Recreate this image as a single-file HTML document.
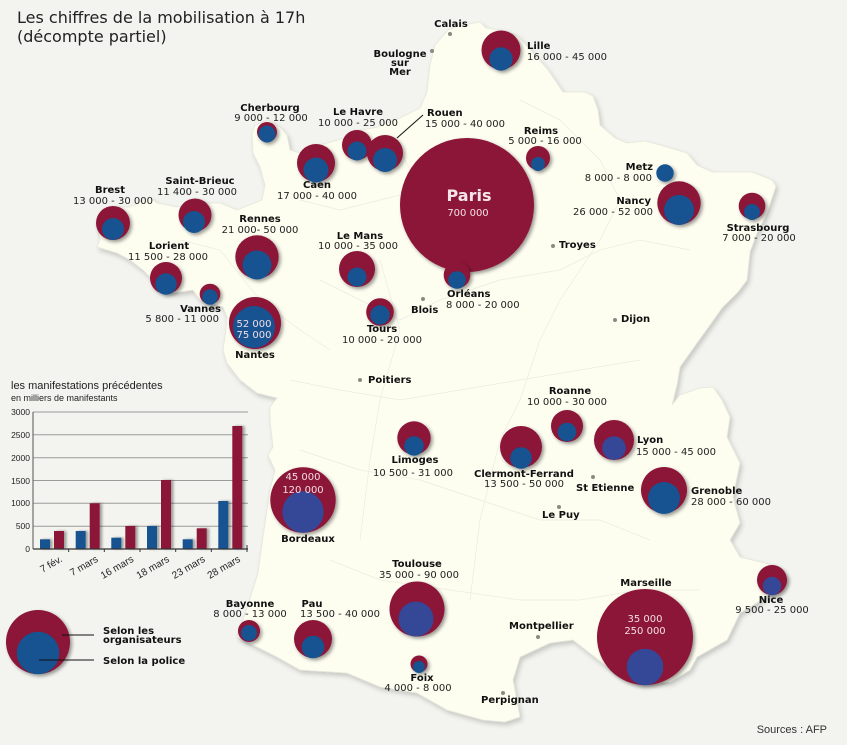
<!DOCTYPE html>
<html>
<head>
<meta charset="utf-8">
<style>
html,body{margin:0;padding:0;background:#f3f4ef;}
svg{display:block;}
.n{font-family:"DejaVu Sans",Verdana,sans-serif;font-size:10px;font-weight:bold;fill:#111;}
.v{font-family:"DejaVu Sans",Verdana,sans-serif;font-size:10px;fill:#222;}
.w{font-family:"DejaVu Sans",Verdana,sans-serif;font-size:10px;fill:#f3dde4;}
.c{font-family:"Liberation Sans",Arial,sans-serif;fill:#222;}
</style>
</head>
<body>
<svg width="847" height="745" viewBox="0 0 847 745" xmlns="http://www.w3.org/2000/svg">
<defs>
<filter id="ms" x="-10%" y="-10%" width="130%" height="130%">
<feDropShadow dx="2" dy="3" stdDeviation="2.5" flood-color="#000" flood-opacity="0.18"/>
</filter>
<filter id="cs" x="-30%" y="-30%" width="170%" height="170%">
<feDropShadow dx="2" dy="2" stdDeviation="1.8" flood-color="#000" flood-opacity="0.4"/>
</filter>
<filter id="bs" x="-30%" y="-10%" width="180%" height="120%">
<feDropShadow dx="2.5" dy="0" stdDeviation="1.2" flood-color="#000" flood-opacity="0.35"/>
</filter>
</defs>
<rect width="847" height="745" fill="#f3f4ef"/>

<!-- France map -->
<polygon filter="url(#ms)" fill="#fdfdf0" stroke="#e6e6dc" stroke-width="0.8" points="448,30 458,26 480,22 486,28 500,30 518,36 535,55 548,70 563,92 585,92 593,96 598,110 600,125 615,138 627,143 645,141 660,145 687,153 697,165 712,172 752,172 772,180 776,186 767,213 757,233 750,252 747,280 738,292 730,300 722,308 710,325 697,343 680,367 677,385 672,405 680,395 700,388 713,387 722,400 730,417 727,437 740,463 733,497 740,523 730,540 740,557 773,565 787,577 775,592 740,613 727,640 697,657 690,670 670,682 640,684 605,665 573,640 550,643 520,657 513,680 520,717 505,722 483,720 447,710 417,693 380,687 347,673 300,670 277,657 257,647 237,637 248,605 258,573 265,523 270,490 275,470 268,455 273,447 270,420 270,407 277,398 257,393 240,380 227,363 223,350 226,330 227,317 223,307 200,300 193,290 173,293 153,280 143,270 130,260 117,253 97,247 100,240 97,223 100,213 113,207 130,207 150,197 157,203 177,207 210,203 220,203 237,210 262,200 265,185 260,167 253,153 252,133 255,125 268,120 280,127 287,135 290,150 300,153 320,145 345,138 362,130 378,127 400,118 420,108 427,92 430,65 435,45"/>

<!-- faint internal borders -->
<g fill="none" stroke="#ebebdf" stroke-width="0.7">
<path d="M300,200 L340,210 L380,200 L420,190 L400,150"/>
<path d="M320,280 L360,300 L400,320 L440,300 L500,280 L560,270 L600,250 L640,240 L690,250"/>
<path d="M290,380 L340,390 L400,400 L460,390 L520,380 L580,370 L640,360"/>
<path d="M300,450 L360,470 L420,480 L480,500 L540,520 L600,520 L650,540"/>
<path d="M330,560 L380,580 L450,590 L520,600 L580,600 L640,590 L700,590"/>
<path d="M520,100 L560,120 L600,160 L620,200 L600,240 L560,300 L540,340 L520,400 L500,440 L480,520 L470,600"/>
<path d="M380,260 L400,330 L380,400 L370,460 L360,540"/>
<path d="M180,240 L220,250 L260,300 L300,330 L330,350"/>
</g>

<!-- Title -->
<text x="17" y="23" font-family="DejaVu Sans,Verdana,sans-serif" font-size="16" fill="#222">Les chiffres de la mobilisation à 17h</text>
<text x="17" y="42" font-family="DejaVu Sans,Verdana,sans-serif" font-size="16" fill="#222">(décompte partiel)</text>

<!-- city dots -->
<g fill="#8a8a82">
<circle cx="450" cy="34" r="2"/>
<circle cx="432" cy="51" r="2"/>
<circle cx="423" cy="299" r="2"/>
<circle cx="360" cy="380" r="2"/>
<circle cx="553" cy="246" r="2"/>
<circle cx="615" cy="320" r="2"/>
<circle cx="593" cy="477" r="2"/>
<circle cx="559" cy="507" r="2"/>
<circle cx="538" cy="637" r="2"/>
<circle cx="503" cy="693" r="2"/>
</g>

<!-- Rouen leader line -->
<line x1="397" y1="138" x2="423" y2="115" stroke="#111" stroke-width="1"/>

<!-- circles -->
<g>
<g filter="url(#cs)"><circle cx="467" cy="205" r="67" fill="#8c1239"/></g>
<g filter="url(#cs)"><circle cx="501" cy="50" r="19.5" fill="#8c1239"/><circle cx="501" cy="59" r="11.7" fill="#175290"/></g>
<g filter="url(#cs)"><circle cx="357" cy="145" r="15" fill="#8c1239"/><circle cx="357" cy="151" r="9.5" fill="#175290"/></g>
<g filter="url(#cs)"><circle cx="385" cy="153" r="18" fill="#8c1239"/><circle cx="385" cy="160" r="12" fill="#175290"/></g>
<g filter="url(#cs)"><circle cx="316" cy="163" r="19" fill="#8c1239"/><circle cx="316" cy="170" r="12.5" fill="#175290"/></g>
<g filter="url(#cs)"><circle cx="267" cy="132" r="10" fill="#8c1239"/><circle cx="267" cy="134" r="8.5" fill="#175290"/></g>
<g filter="url(#cs)"><circle cx="195" cy="215" r="16.5" fill="#8c1239"/><circle cx="194" cy="222" r="11" fill="#175290"/></g>
<g filter="url(#cs)"><circle cx="113" cy="223" r="17" fill="#8c1239"/><circle cx="113" cy="229" r="11" fill="#175290"/></g>
<g filter="url(#cs)"><circle cx="166" cy="278" r="16" fill="#8c1239"/><circle cx="166" cy="284" r="10.7" fill="#175290"/></g>
<g filter="url(#cs)"><circle cx="210" cy="294" r="10.3" fill="#8c1239"/><circle cx="210" cy="297" r="7.8" fill="#175290"/></g>
<g filter="url(#cs)"><circle cx="257" cy="257" r="21.7" fill="#8c1239"/><circle cx="257" cy="265" r="14.5" fill="#175290"/></g>
<g filter="url(#cs)"><circle cx="357" cy="269" r="18" fill="#8c1239"/><circle cx="357" cy="277" r="9.5" fill="#175290"/></g>
<g filter="url(#cs)"><circle cx="380" cy="312" r="13.8" fill="#8c1239"/><circle cx="380" cy="315" r="9.7" fill="#175290"/></g>
<g filter="url(#cs)"><circle cx="255" cy="323" r="26" fill="#8c1239"/><circle cx="254" cy="327" r="21" fill="#175290"/></g>
<g filter="url(#cs)"><circle cx="457" cy="275" r="13.3" fill="#8c1239"/><circle cx="457" cy="280" r="8.8" fill="#175290"/></g>
<g filter="url(#cs)"><circle cx="538" cy="158" r="12" fill="#8c1239"/><circle cx="538" cy="164" r="7" fill="#175290"/></g>
<g filter="url(#cs)"><circle cx="665" cy="173" r="8.7" fill="#175290"/></g>
<g filter="url(#cs)"><circle cx="679" cy="203" r="21.7" fill="#8c1239"/><circle cx="679" cy="210" r="15" fill="#175290"/></g>
<g filter="url(#cs)"><circle cx="752" cy="206" r="13.3" fill="#8c1239"/><circle cx="752" cy="212" r="8" fill="#175290"/></g>
<g filter="url(#cs)"><circle cx="414" cy="438" r="16.7" fill="#8c1239"/><circle cx="414" cy="446" r="9.8" fill="#175290"/></g>
<g filter="url(#cs)"><circle cx="521" cy="447" r="21" fill="#8c1239"/><circle cx="521" cy="458" r="10.8" fill="#175290"/></g>
<g filter="url(#cs)"><circle cx="567" cy="426" r="16" fill="#8c1239"/><circle cx="567" cy="432" r="9.3" fill="#175290"/></g>
<g filter="url(#cs)"><circle cx="614" cy="440" r="20" fill="#8c1239"/><circle cx="614" cy="448" r="11.8" fill="#364797"/></g>
<g filter="url(#cs)"><circle cx="664" cy="490" r="23" fill="#8c1239"/><circle cx="664" cy="498" r="16" fill="#175290"/></g>
<g filter="url(#cs)"><circle cx="303" cy="500" r="32.7" fill="#8c1239"/><circle cx="303" cy="512" r="20.7" fill="#364797"/></g>
<g filter="url(#cs)"><circle cx="417" cy="609" r="27.5" fill="#8c1239"/><circle cx="416" cy="619" r="17.5" fill="#364797"/></g>
<g filter="url(#cs)"><circle cx="249" cy="631" r="11" fill="#8c1239"/><circle cx="249" cy="633" r="8" fill="#175290"/></g>
<g filter="url(#cs)"><circle cx="313" cy="639" r="19" fill="#8c1239"/><circle cx="313" cy="647" r="11.3" fill="#175290"/></g>
<g filter="url(#cs)"><circle cx="419" cy="664" r="8.5" fill="#8c1239"/><circle cx="419" cy="667" r="6" fill="#175290"/></g>
<g filter="url(#cs)"><circle cx="645" cy="637" r="48" fill="#8c1239"/><circle cx="645" cy="667" r="18.3" fill="#364797"/></g>
<g filter="url(#cs)"><circle cx="772" cy="580" r="15" fill="#8c1239"/><circle cx="772" cy="586" r="9.2" fill="#364797"/></g>
<g filter="url(#cs)"><circle cx="38" cy="642" r="32" fill="#8c1239"/><circle cx="38" cy="653" r="21.3" fill="#175290"/></g>
</g>

<!-- in-circle labels -->
<text x="469" y="201" text-anchor="middle" font-family="DejaVu Sans,Verdana,sans-serif" font-size="16" font-weight="bold" fill="#f6e6ea">Paris</text>
<text x="468" y="216" text-anchor="middle" class="w">700 000</text>
<text x="254" y="327" text-anchor="middle" class="w">52 000</text>
<text x="254" y="338" text-anchor="middle" class="w">75 000</text>
<text x="303" y="480" text-anchor="middle" class="w">45 000</text>
<text x="303" y="493" text-anchor="middle" class="w">120 000</text>
<text x="645" y="622" text-anchor="middle" class="w">35 000</text>
<text x="645" y="634" text-anchor="middle" class="w">250 000</text>

<!-- city labels -->
<text x="451" y="27" text-anchor="middle" class="n">Calais</text>
<text x="400" y="57" text-anchor="middle" class="n">Boulogne</text>
<text x="400" y="66" text-anchor="middle" class="n">sur</text>
<text x="400" y="75" text-anchor="middle" class="n">Mer</text>

<text x="527" y="49" class="n">Lille</text>
<text x="527" y="60" class="v">16 000 - 45 000</text>

<text x="427" y="116" class="n">Rouen</text>
<text x="425" y="127" class="v">15 000 - 40 000</text>

<text x="358" y="115" text-anchor="middle" class="n">Le Havre</text>
<text x="358" y="126" text-anchor="middle" class="v">10 000 - 25 000</text>

<text x="270" y="111" text-anchor="middle" class="n">Cherbourg</text>
<text x="271" y="121" text-anchor="middle" class="v">9 000 - 12 000</text>

<text x="317" y="188" text-anchor="middle" class="n">Caen</text>
<text x="317" y="199" text-anchor="middle" class="v">17 000 - 40 000</text>

<text x="200" y="184" text-anchor="middle" class="n">Saint-Brieuc</text>
<text x="197" y="195" text-anchor="middle" class="v">11 400 - 30 000</text>

<text x="110" y="193" text-anchor="middle" class="n">Brest</text>
<text x="113" y="204" text-anchor="middle" class="v">13 000 - 30 000</text>

<text x="260" y="222" text-anchor="middle" class="n">Rennes</text>
<text x="260" y="233" text-anchor="middle" class="v">21 000- 50 000</text>

<text x="169" y="249" text-anchor="middle" class="n">Lorient</text>
<text x="168" y="260" text-anchor="middle" class="v">11 500 - 28 000</text>

<text x="221" y="312" text-anchor="end" class="n">Vannes</text>
<text x="219" y="322" text-anchor="end" class="v">5 800 - 11 000</text>

<text x="255" y="358" text-anchor="middle" class="n">Nantes</text>

<text x="360" y="239" text-anchor="middle" class="n">Le Mans</text>
<text x="358" y="249" text-anchor="middle" class="v">10 000 - 35 000</text>

<text x="382" y="332" text-anchor="middle" class="n">Tours</text>
<text x="382" y="343" text-anchor="middle" class="v">10 000 - 20 000</text>

<text x="411" y="313" class="n">Blois</text>
<text x="368" y="383" class="n">Poitiers</text>

<text x="559" y="248" class="n">Troyes</text>

<text x="447" y="297" class="n">Orléans</text>
<text x="446" y="308" class="v">8 000 - 20 000</text>

<text x="621" y="322" class="n">Dijon</text>

<text x="541" y="134" text-anchor="middle" class="n">Reims</text>
<text x="545" y="144" text-anchor="middle" class="v">5 000 - 16 000</text>

<text x="653" y="170" text-anchor="end" class="n">Metz</text>
<text x="652" y="181" text-anchor="end" class="v">8 000 - 8 000</text>

<text x="651" y="204" text-anchor="end" class="n">Nancy</text>
<text x="653" y="215" text-anchor="end" class="v">26 000 - 52 000</text>

<text x="758" y="231" text-anchor="middle" class="n">Strasbourg</text>
<text x="759" y="241" text-anchor="middle" class="v">7 000 - 20 000</text>

<text x="570" y="394" text-anchor="middle" class="n">Roanne</text>
<text x="567" y="405" text-anchor="middle" class="v">10 000 - 30 000</text>

<text x="415" y="463" text-anchor="middle" class="n">Limoges</text>
<text x="413" y="476" text-anchor="middle" class="v">10 500 - 31 000</text>

<text x="637" y="443" class="n">Lyon</text>
<text x="636" y="455" class="v">15 000 - 45 000</text>

<text x="524" y="477" text-anchor="middle" class="n">Clermont-Ferrand</text>
<text x="524" y="487" text-anchor="middle" class="v">13 500 - 50 000</text>

<text x="576" y="491" class="n">St Etienne</text>
<text x="542" y="518" class="n">Le Puy</text>

<text x="691" y="494" class="n">Grenoble</text>
<text x="691" y="505" class="v">28 000 - 60 000</text>

<text x="308" y="542" text-anchor="middle" class="n">Bordeaux</text>

<text x="417" y="567" text-anchor="middle" class="n">Toulouse</text>
<text x="419" y="578" text-anchor="middle" class="v">35 000 - 90 000</text>

<text x="250" y="607" text-anchor="middle" class="n">Bayonne</text>
<text x="250" y="617" text-anchor="middle" class="v">8 000 - 13 000</text>

<text x="312" y="607" text-anchor="middle" class="n">Pau</text>
<text x="300" y="617" class="v">13 500 - 40 000</text>

<text x="422" y="681" text-anchor="middle" class="n">Foix</text>
<text x="418" y="691" text-anchor="middle" class="v">4 000 - 8 000</text>

<text x="509" y="629" class="n">Montpellier</text>
<text x="481" y="703" class="n">Perpignan</text>

<text x="646" y="586" text-anchor="middle" class="n">Marseille</text>

<text x="771" y="603" text-anchor="middle" class="n">Nice</text>
<text x="772" y="613" text-anchor="middle" class="v">9 500 - 25 000</text>

<text x="827" y="733" text-anchor="end" font-family="Liberation Sans,Arial,sans-serif" font-size="11" fill="#333">Sources : AFP</text>

<!-- Legend -->
<line x1="62" y1="635" x2="94" y2="635" stroke="#111" stroke-width="1"/>
<line x1="39" y1="660" x2="94" y2="660" stroke="#111" stroke-width="1"/>
<text x="103" y="634" class="n">Selon les</text>
<text x="103" y="643" class="n">organisateurs</text>
<text x="103" y="664" class="n">Selon la police</text>

<!-- Bar chart -->
<text x="11" y="389" class="c" font-size="11">les manifestations précédentes</text>
<text x="11" y="401" class="c" font-size="9">en milliers de manifestants</text>

<g stroke="#9b9b9b" stroke-width="1">
<line x1="33" y1="412" x2="248" y2="412"/>
<line x1="33" y1="434.8" x2="248" y2="434.8"/>
<line x1="33" y1="457.7" x2="248" y2="457.7"/>
<line x1="33" y1="480.5" x2="248" y2="480.5"/>
<line x1="33" y1="503.3" x2="248" y2="503.3"/>
<line x1="33" y1="526.2" x2="248" y2="526.2"/>
</g>
<g class="c" font-size="8.5" text-anchor="end">
<text x="30" y="415">3000</text>
<text x="30" y="438">2500</text>
<text x="30" y="461">2000</text>
<text x="30" y="484">1500</text>
<text x="30" y="506">1000</text>
<text x="30" y="529">500</text>
<text x="30" y="552">0</text>
</g>

<g filter="url(#bs)">
<rect x="40" y="539.3" width="10" height="9.7" fill="#175290"/>
<rect x="54" y="531" width="10" height="18" fill="#8c1239"/>
<rect x="75.7" y="531" width="10" height="18" fill="#175290"/>
<rect x="89.7" y="503.3" width="10" height="45.7" fill="#8c1239"/>
<rect x="111.3" y="537.7" width="10" height="11.3" fill="#175290"/>
<rect x="125.3" y="526" width="10" height="23" fill="#8c1239"/>
<rect x="147" y="526" width="10" height="23" fill="#175290"/>
<rect x="161" y="480" width="10" height="69" fill="#8c1239"/>
<rect x="182.7" y="539.3" width="10" height="9.7" fill="#175290"/>
<rect x="196.7" y="528.3" width="10" height="20.7" fill="#8c1239"/>
<rect x="218.3" y="501" width="10" height="48" fill="#175290"/>
<rect x="232.3" y="426" width="10" height="123" fill="#8c1239"/>
</g>

<line x1="33" y1="412" x2="33" y2="549" stroke="#555" stroke-width="1"/>
<line x1="33" y1="549" x2="248" y2="549" stroke="#333" stroke-width="1.2"/>
<g stroke="#333" stroke-width="1">
<line x1="68.7" y1="549" x2="68.7" y2="552"/>
<line x1="104.3" y1="549" x2="104.3" y2="552"/>
<line x1="140" y1="549" x2="140" y2="552"/>
<line x1="175.7" y1="549" x2="175.7" y2="552"/>
<line x1="211.3" y1="549" x2="211.3" y2="552"/>
<line x1="247" y1="545" x2="247" y2="552"/>
</g>

<g class="c" font-size="10" text-anchor="end">
<text x="63" y="561" transform="rotate(-30 63 561)">7 fév.</text>
<text x="98.7" y="561" transform="rotate(-30 98.7 561)">7 mars</text>
<text x="134.3" y="561" transform="rotate(-30 134.3 561)">16 mars</text>
<text x="170" y="561" transform="rotate(-30 170 561)">18 mars</text>
<text x="205.7" y="561" transform="rotate(-30 205.7 561)">23 mars</text>
<text x="241" y="561" transform="rotate(-30 241 561)">28 mars</text>
</g>
</svg>
</body>
</html>
